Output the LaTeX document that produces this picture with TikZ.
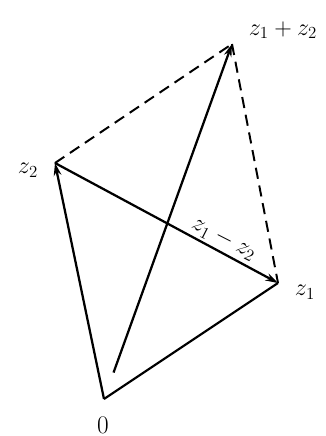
\documentclass[tikz,border=0pt]{standalone}
\usetikzlibrary{arrows.meta}
\begin{document}
\begin{tikzpicture}[x=0.025cm,y=-0.025cm,
  vec/.style={line width=1.6pt,-{Stealth[length=9pt,width=5.5pt]}},
  plain/.style={line width=1.5pt},
  dsh/.style={line width=1.4pt,dash pattern=on 0.28cm off 0.17cm},
  lbl/.style={font=\fontsize{18}{21}\selectfont,inner sep=0pt}]
\useasboundingbox (0,0) rectangle (326,436);
\coordinate (O) at (104,399);
\coordinate (A) at (278,283);
\coordinate (B) at (55,163);
\coordinate (S) at (232,44);
\draw[dsh] (B) -- (S);
\draw[dsh] (S) -- (A);
\draw[plain] (O) -- (A);
\draw[vec] (O) -- (B);
\draw[vec,shorten <=20] (O) -- (S);
\draw[vec] (B) -- (A);
\node[lbl] (lO) at (103,425) {0};
\node[lbl] (lA) at (305,292) {$z_1$};
\node[lbl] (lB) at (28,170) {$z_2$};
\node[lbl] (lS) at (283,30) {$z_1+z_2$};
\node[lbl,rotate=-27] (lD) at (224,239) {$z_1-z_2$};
\end{tikzpicture}
\end{document}
